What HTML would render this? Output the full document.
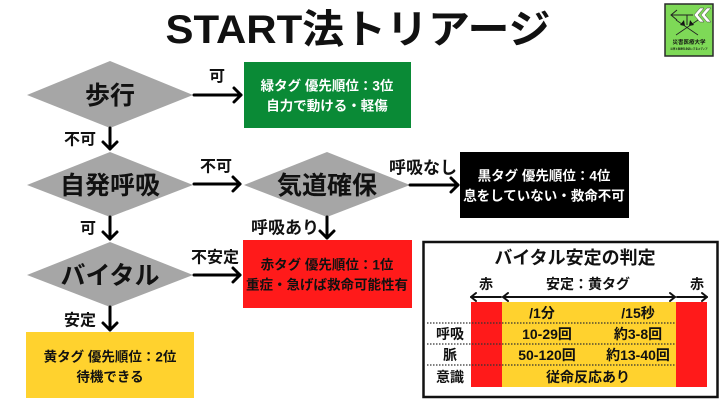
<!DOCTYPE html>
<html>
<head>
<meta charset="utf-8">
<style>
html,body{margin:0;padding:0;background:#fff;}
svg{display:block;}
text{font-family:"Liberation Sans","Noto Sans CJK JP",sans-serif;font-weight:bold;}
</style>
</head>
<body>
<svg width="720" height="405" viewBox="0 0 720 405" xmlns="http://www.w3.org/2000/svg">
<rect width="720" height="405" fill="#fff"/>

<!-- Title -->
<text x="358" y="30" font-size="40" text-anchor="middle" dominant-baseline="central" fill="#111" textLength="385" lengthAdjust="spacingAndGlyphs">START法トリアージ</text>

<!-- Logo -->
<g>
<rect x="665" y="4" width="48" height="52" fill="#7ed957" stroke="#2a2a2a" stroke-width="1.5"/>
<polyline points="677,10 671,15 677,20" fill="none" stroke="#222" stroke-width="1"/>
<line x1="671" y1="15" x2="693" y2="15" stroke="#222" stroke-width="1"/>
<line x1="687" y1="15" x2="687" y2="25" stroke="#222" stroke-width="1"/>
<polygon points="700,8 694,15 700,22 704,22 698,15 704,8" fill="#fff" stroke="#444" stroke-width="0.5"/>
<polygon points="707,8 701,15 707,22 711,22 705,15 711,8" fill="#fff" stroke="#444" stroke-width="0.5"/>
<polygon points="680,25 684,20 685,26" fill="#111"/>
<polygon points="694,25 690,20 689,26" fill="#111"/>
<line x1="676" y1="35" x2="698" y2="20" stroke="#222" stroke-width="0.8"/>
<line x1="676" y1="20" x2="698" y2="35" stroke="#222" stroke-width="0.8"/>
<text x="689" y="43" font-size="5.5" text-anchor="middle" dominant-baseline="central" fill="#111">災害医療大学</text>
<text x="689" y="49" font-size="2.5" text-anchor="middle" dominant-baseline="central" fill="#111">災害と医療を身近にするメディア</text>
</g>

<!-- Diamonds -->
<g fill="#a6a6a6">
<polygon points="27,95 110,61 193,95 110,128"/>
<polygon points="27,185 110,152 193,185 110,217"/>
<polygon points="244,185 327,152 410,185 327,217"/>
<polygon points="27,275 110,242 193,275 110,307"/>
</g>
<g font-size="25" fill="#111" text-anchor="middle" dominant-baseline="central">
<text x="110" y="96">歩行</text>
<text x="110" y="186">自発呼吸</text>
<text x="327" y="186">気道確保</text>
<text x="110" y="276">バイタル</text>
</g>

<!-- Boxes -->
<rect x="244" y="62" width="167" height="66" fill="#0a8a36"/>
<text x="327" y="86" font-size="13.5" fill="#fff" text-anchor="middle" dominant-baseline="central">緑タグ 優先順位：3位</text>
<text x="327" y="106" font-size="13.5" fill="#fff" text-anchor="middle" dominant-baseline="central">自力で動ける・軽傷</text>

<rect x="460" y="152" width="169" height="66" fill="#000"/>
<text x="544" y="176" font-size="13.5" fill="#fff" text-anchor="middle" dominant-baseline="central">黒タグ 優先順位：4位</text>
<text x="544" y="196" font-size="13.5" fill="#fff" text-anchor="middle" dominant-baseline="central">息をしていない・救命不可</text>

<rect x="243" y="240" width="169" height="68" fill="#ff1a1a"/>
<text x="327" y="265" font-size="13.5" fill="#111" text-anchor="middle" dominant-baseline="central">赤タグ 優先順位：1位</text>
<text x="327" y="285" font-size="13.5" fill="#111" text-anchor="middle" dominant-baseline="central">重症・急げば救命可能性有</text>

<rect x="26" y="332" width="168" height="66" fill="#ffd22e"/>
<text x="110" y="357" font-size="13.5" fill="#111" text-anchor="middle" dominant-baseline="central">黄タグ 優先順位：2位</text>
<text x="110" y="377" font-size="13.5" fill="#111" text-anchor="middle" dominant-baseline="central">待機できる</text>

<!-- Arrows -->
<g stroke="#000" stroke-width="3" fill="none" stroke-linecap="round" stroke-linejoin="round">
<line x1="194" y1="95" x2="241" y2="95"/><polyline points="234,88 241,95 234,102"/>
<line x1="110" y1="128" x2="110" y2="149"/><polyline points="103,142 110,149 117,142"/>
<line x1="194" y1="184" x2="240" y2="184"/><polyline points="233,177 240,184 233,191"/>
<line x1="110" y1="217" x2="110" y2="239"/><polyline points="103,232 110,239 117,232"/>
<line x1="410" y1="185" x2="458" y2="185"/><polyline points="451,178 458,185 451,192"/>
<line x1="327" y1="217" x2="327" y2="238"/><polyline points="320,231 327,238 334,231"/>
<line x1="194" y1="275" x2="240" y2="275"/><polyline points="233,268 240,275 233,282"/>
<line x1="110" y1="307" x2="110" y2="330"/><polyline points="103,323 110,330 117,323"/>
</g>

<!-- Arrow labels -->
<g font-size="16" fill="#111" text-anchor="middle" dominant-baseline="central">
<text x="217" y="77">可</text>
<text x="80" y="140">不可</text>
<text x="216" y="167">不可</text>
<text x="88" y="229">可</text>
<text x="423" y="168" font-size="17">呼吸なし</text>
<text x="285" y="228" font-size="17">呼吸あり</text>
<text x="215" y="258">不安定</text>
<text x="80" y="321">安定</text>
</g>

<!-- Vital table -->
<rect x="423.5" y="242" width="294" height="155" fill="#fff" stroke="#111" stroke-width="2.5"/>
<text x="575" y="258" font-size="18" fill="#111" text-anchor="middle" dominant-baseline="central">バイタル安定の判定</text>
<g font-size="14" fill="#111" text-anchor="middle" dominant-baseline="central">
<text x="486" y="284">赤</text>
<text x="588" y="284">安定：黄タグ</text>
<text x="697" y="284">赤</text>
</g>
<g stroke="#111" stroke-width="2" fill="none" stroke-linecap="round" stroke-linejoin="round">
<line x1="471" y1="297" x2="501" y2="297"/><polyline points="476,293 471,297 476,301"/>
<line x1="503" y1="297" x2="675" y2="297"/><polyline points="508,293 503,297 508,301"/><polyline points="670,293 675,297 670,301"/>
<line x1="677" y1="297" x2="707" y2="297"/><polyline points="702,293 707,297 702,301"/>
</g>
<rect x="471" y="302" width="31" height="85" fill="#ff1a1a"/>
<rect x="502" y="302" width="174" height="85" fill="#ffd22e"/>
<rect x="676" y="302" width="31" height="85" fill="#ff1a1a"/>
<g stroke="#333" stroke-width="1.2" stroke-dasharray="1.5,1.5">
<line x1="427" y1="323" x2="676" y2="323"/>
<line x1="427" y1="344" x2="676" y2="344"/>
<line x1="427" y1="365" x2="676" y2="365"/>
</g>
<g font-size="14" fill="#111" text-anchor="middle" dominant-baseline="central">
<text x="542" y="313">/1分</text>
<text x="638" y="313">/15秒</text>
<text x="450" y="334">呼吸</text>
<text x="547" y="334">10-29回</text>
<text x="638" y="334">約3-8回</text>
<text x="450" y="355">脈</text>
<text x="547" y="355">50-120回</text>
<text x="638" y="355">約13-40回</text>
<text x="450" y="377">意識</text>
<text x="588" y="377">従命反応あり</text>
</g>
</svg>
</body>
</html>
